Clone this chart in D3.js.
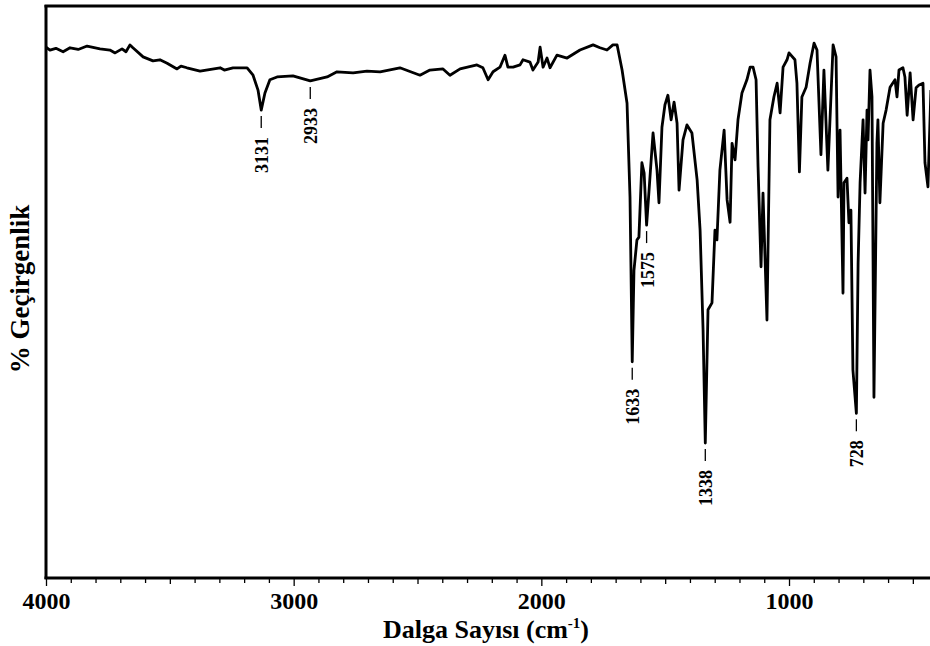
<!DOCTYPE html>
<html><head><meta charset="utf-8">
<script src="https://cdn.jsdelivr.net/npm/d3@7/dist/d3.min.js"></script>
<style>
html,body{margin:0;padding:0;background:#fff;}
svg{display:block;}
</style></head>
<body><svg id="c" width="930" height="646"></svg>
<script>
// Wavenumbers (cm-1) and % transmittance
const wavenumbers = [4000,3984,3960,3931,3903,3870,3834,3782,3742,3721,3693,3677,3661,3649,3608,3568,3540,3511,3471,3455,3431,3378,3297,3280,3245,3188,3164,3144,3131,3116,3096,3067,3003,2933,2865,2825,2760,2704,2651,2571,2490,2450,2397,2369,2328,2260,2236,2215,2195,2167,2147,2135,2114,2086,2074,2046,2034,2013,2005,1993,1977,1965,1937,1896,1844,1791,1763,1735,1711,1694,1674,1654,1642,1633,1626,1614,1606,1594,1585,1575,1565,1549,1533,1525,1513,1501,1489,1476,1464,1452,1444,1428,1412,1392,1371,1359,1347,1338,1327,1311,1299,1291,1279,1262,1250,1238,1230,1218,1206,1190,1170,1157,1145,1133,1125,1113,1105,1089,1077,1061,1048,1036,1024,1008,1000,976,968,958,948,931,915,899,887,871,859,843,822,810,802,794,782,778,766,758,750,742,728,721,713,701,693,685,681,673,665,657,645,641,633,620,608,592,572,564,556,540,532,523,511,499,487,475,459,451,439,427];
const transmittance = [92.8,92.3,92.6,92.0,92.7,92.4,93.0,92.5,92.3,91.8,92.5,92.0,93.2,92.7,91.1,90.4,90.6,90.0,89.0,89.5,89.2,88.6,89.2,88.8,89.2,89.2,87.9,85.3,81.8,84.8,87.1,87.6,87.8,86.9,87.6,88.5,88.3,88.6,88.5,89.2,87.9,88.8,89.0,87.9,89.0,89.7,89.2,87.1,88.5,89.3,91.4,89.3,89.3,89.7,90.6,90.2,88.8,90.2,92.8,89.3,90.9,89.2,91.4,90.9,92.3,93.2,92.7,92.3,93.2,93.2,88.8,83.0,66.6,37.8,53.8,59.1,59.6,72.6,70.8,61.7,67.8,77.8,71.3,65.6,78.8,82.7,84.4,80.1,83.2,79.5,67.8,76.6,79.2,77.8,69.6,60.8,43.4,23.6,46.9,48.1,60.8,59.1,71.3,78.3,66.1,62.2,76.0,73.1,80.1,84.8,87.1,89.3,89.3,87.1,71.9,54.4,67.3,45.1,80.1,84.1,86.5,81.3,89.3,90.6,91.8,90.6,86.5,71.0,84.1,85.8,90.0,93.5,92.3,74.0,88.8,71.3,93.2,91.1,66.6,78.3,49.8,69.1,69.9,62.1,64.3,36.4,28.8,55.1,69.1,80.1,67.3,81.8,76.6,88.8,84.1,31.6,76.0,80.1,65.6,79.5,81.8,85.8,87.1,84.1,88.8,89.2,87.6,80.9,88.3,80.1,85.7,86.2,86.5,72.6,68.4,85.3];
const peakWavenumbers = [3131,2933,1633,1575,1338,728];
const peakLabels = ["3131","2933","1633","1575","1338","728"];
const xTickLabels = [4000,3000,2000,1000];

const svg = d3.select("#c");
const x = d3.scaleLinear().domain([4000,400]).range([46, 46 + 3600*0.24767]);
const y = d3.scaleLinear().domain([0,100]).range([578, 6]);
const font = "'Liberation Serif', 'DejaVu Serif', serif";

const data = wavenumbers.map((w,i)=>({w, t: transmittance[i]}));

svg.append("defs").append("clipPath").attr("id","clip")
  .append("rect").attr("x",46).attr("y",6).attr("width",900).attr("height",572);

// spectrum
svg.append("path").datum(data)
  .attr("clip-path","url(#clip)")
  .attr("fill","none").attr("stroke","#000").attr("stroke-width",2.8)
  .attr("stroke-linejoin","round")
  .attr("d", d3.line().x(d=>x(d.w)).y(d=>y(d.t)));

// frame
svg.append("line").attr("x1",46).attr("x2",46).attr("y1",5).attr("y2",579)
  .attr("stroke","#000").attr("stroke-width",3);
svg.append("line").attr("x1",44.5).attr("x2",940).attr("y1",6).attr("y2",6)
  .attr("stroke","#000").attr("stroke-width",3);

// minor ticks
const minor = d3.range(4000, 399, -100);
const axMinor = svg.append("g").attr("transform","translate(0,578)")
  .call(d3.axisBottom(x).tickValues(minor).tickSize(5).tickFormat(""));
axMinor.select(".domain").remove();
axMinor.selectAll(".tick line").attr("stroke","#000").attr("stroke-width",1.3)
  .attr("y2", d => d % 1000 === 0 ? 8 : (d % 500 === 0 ? 6 : 5));

// major labels
const axMajor = svg.append("g").attr("transform","translate(0,578)")
  .call(d3.axisBottom(x).tickValues(xTickLabels).tickSize(0).tickFormat(d3.format("d")));
axMajor.select(".domain").remove();
axMajor.selectAll("text").style("font-family",font).style("font-weight","bold")
  .style("font-size","24px").attr("fill","#000").attr("dy",null).attr("y",31);

svg.append("line").attr("x1",44.5).attr("x2",940).attr("y1",578).attr("y2",578)
  .attr("stroke","#000").attr("stroke-width",3);

// axis titles
const xt = svg.append("text").attr("x",486).attr("y",638).attr("text-anchor","middle")
  .style("font-family",font).style("font-weight","bold").style("font-size","26px").attr("fill","#000");
xt.append("tspan").text("Dalga Sayısı (cm");
xt.append("tspan").text("-1").style("font-size","15px").attr("dy",-10);
xt.append("tspan").text(")").attr("dy",10);

svg.append("text").attr("transform","translate(29,289) rotate(-90)")
  .attr("text-anchor","middle").style("font-family",font).style("font-weight","bold")
  .style("font-size","27px").attr("fill","#000").text("% Geçirgenlik");

// peak annotations
peakWavenumbers.forEach((w,i)=>{
  const t = transmittance[wavenumbers.indexOf(w)];
  const px = x(w), py = y(t);
  svg.append("line").attr("x1",px).attr("x2",px).attr("y1",py+6).attr("y2",py+18)
    .attr("stroke","#000").attr("stroke-width",1.3);
  svg.append("text").attr("transform",`translate(${px+1},${py+27}) rotate(-90)`)
    .attr("text-anchor","end").attr("dominant-baseline","central")
    .style("font-family",font).style("font-weight","bold").style("font-size","18px")
    .attr("fill","#000").text(peakLabels[i]);
});
</script></body></html>
